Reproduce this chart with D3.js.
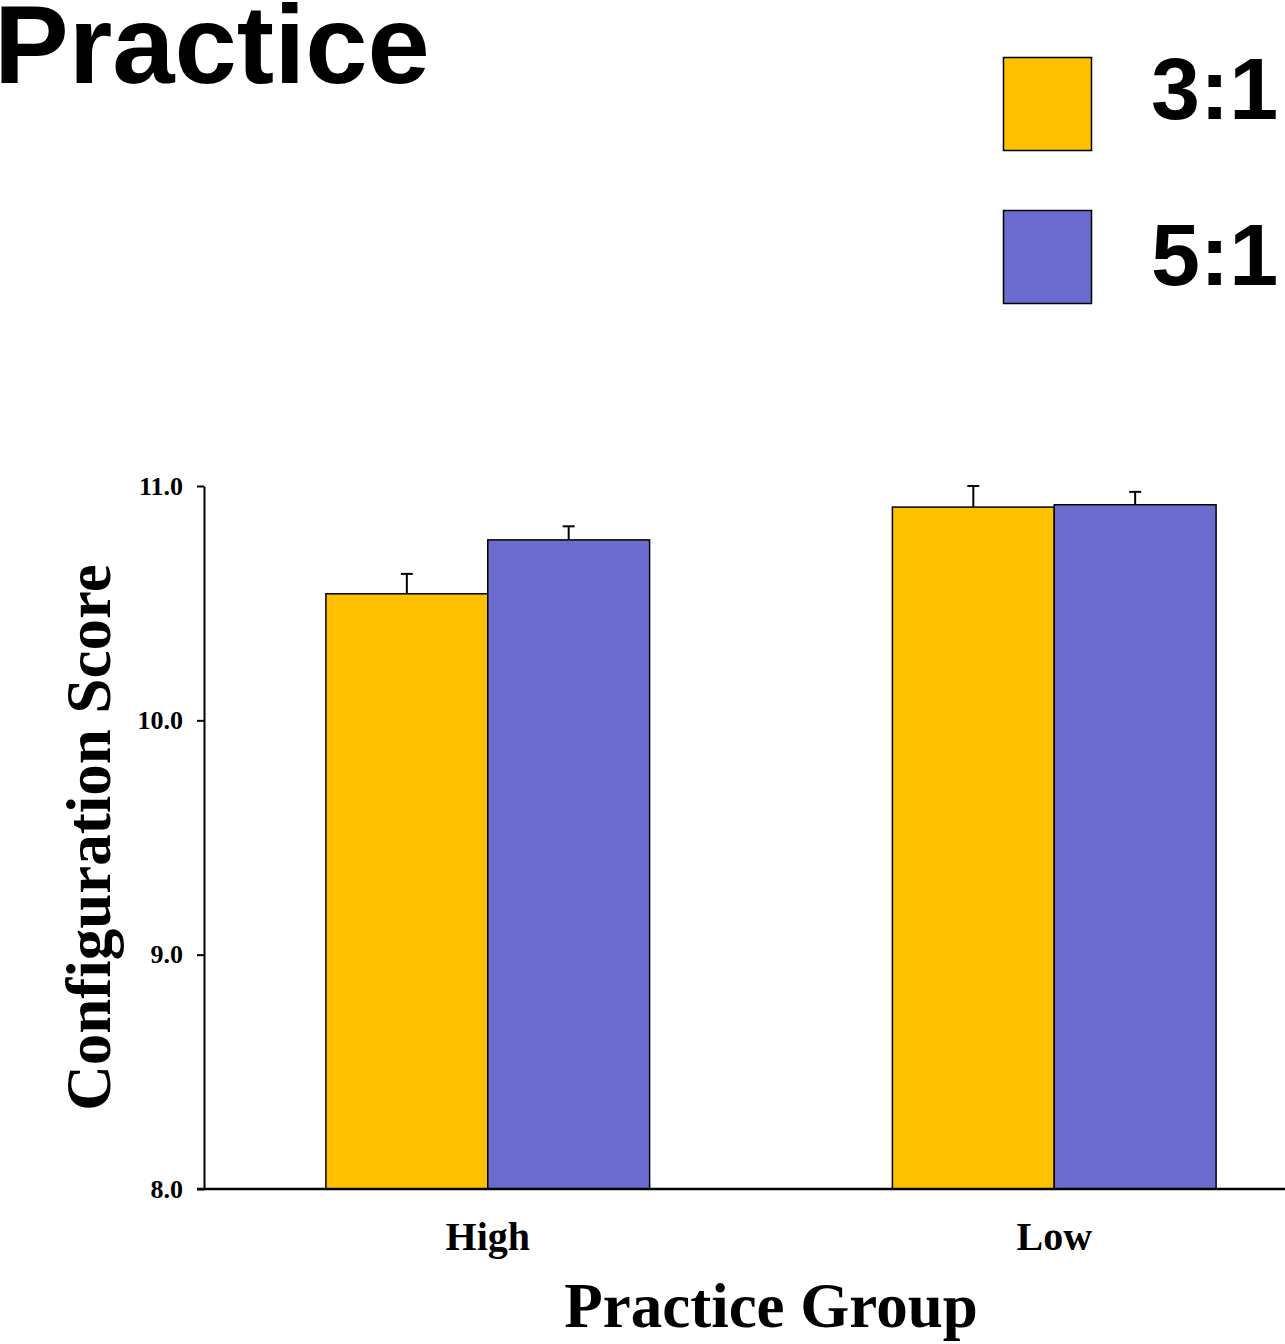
<!DOCTYPE html>
<html>
<head>
<meta charset="utf-8">
<script src="https://cdn.jsdelivr.net/npm/d3@7"></script>
<style>
  html, body { margin: 0; padding: 0; background: #fff; overflow: hidden; }
  svg { display: block; }
</style>
</head>
<body>
<script>
// Configuration score by practice group and ratio
const groups = ["High", "Low"];
const ratios = ["3:1", "5:1"];
const meanScores = {
  "3:1": [10.54, 10.91],
  "5:1": [10.77, 10.92]
};
const stdErrors = {
  "3:1": [0.085, 0.09],
  "5:1": [0.058, 0.055]
};
const yTicks = [8.0, 9.0, 10.0, 11.0];
const ratioColors = ["#FFC000", "#6C6CCE"];

const W = 1285, H = 1344;
const svg = d3.select("body").append("svg")
  .attr("width", W).attr("height", H);

const plot = { left: 204, right: 1338, top: 486, bottom: 1189 };

const y = d3.scaleLinear().domain([8, 11]).range([plot.bottom, plot.top]);
const x0 = d3.scaleBand().domain(groups)
  .range([plot.left, plot.right])
  .paddingInner(0.4286).paddingOuter(0.2152);
const x1 = d3.scaleBand().domain(ratios).range([0, x0.bandwidth()]);
const color = d3.scaleOrdinal().domain(ratios).range(ratioColors);

// Title
svg.append("text")
  .attr("x", -6).attr("y", 83)
  .attr("font-family", "Liberation Sans, Arial, sans-serif")
  .attr("font-weight", "bold").attr("font-size", 112)
  .text("Practice");

// Legend
const legend = svg.append("g");
ratios.forEach((r, i) => {
  const yy = 57 + i * 153;
  legend.append("rect")
    .attr("x", 1003.5).attr("y", yy + 0.5)
    .attr("width", 88).attr("height", 93)
    .attr("fill", color(r)).attr("stroke", "#000").attr("stroke-width", 1.5);
  legend.append("text")
    .attr("x", 1151).attr("y", yy + 62 + (i === 0 ? 0 : 13))
    .attr("font-family", "Liberation Sans, Arial, sans-serif")
    .attr("font-weight", "bold").attr("font-size", 88)
    .text(r);
});

// Bars
const rows = [];
groups.forEach((g, gi) => ratios.forEach(r => rows.push({
  group: g, ratio: r, value: meanScores[r][gi], err: stdErrors[r][gi]
})));

const barG = svg.append("g");
// upper error bars, drawn first so the stem starts at the bar top
barG.selectAll("g.err").data(rows).join("g").attr("class", "err")
  .each(function(d) {
    const cx = x0(d.group) + x1(d.ratio) + x1.bandwidth() / 2;
    const g = d3.select(this);
    g.append("line")
      .attr("x1", cx).attr("x2", cx)
      .attr("y1", y(d.value)).attr("y2", y(d.value + d.err))
      .attr("stroke", "#000").attr("stroke-width", 2);
    g.append("line")
      .attr("x1", cx - 6).attr("x2", cx + 6)
      .attr("y1", y(d.value + d.err)).attr("y2", y(d.value + d.err))
      .attr("stroke", "#000").attr("stroke-width", 2);
  });

barG.selectAll("rect").data(rows).join("rect")
  .attr("x", d => x0(d.group) + x1(d.ratio))
  .attr("y", d => y(d.value))
  .attr("width", x1.bandwidth())
  .attr("height", d => y(8) - y(d.value))
  .attr("fill", d => color(d.ratio))
  .attr("stroke", "#000").attr("stroke-width", 1.5);

// Y axis
const yAxis = d3.axisLeft(y).tickValues(yTicks)
  .tickFormat(d3.format(".1f")).tickSize(7).tickSizeOuter(0);
const yG = svg.append("g").attr("transform", `translate(${plot.left},0)`).call(yAxis);
yG.select(".domain").attr("stroke", "#000").attr("stroke-width", 2);
yG.selectAll(".tick line").attr("stroke", "#000").attr("stroke-width", 2);
yG.selectAll(".tick text")
  .attr("x", -21)
  .attr("font-family", "Liberation Serif, Times New Roman, serif")
  .attr("font-weight", "bold").attr("font-size", 26).attr("fill", "#000");

// X axis
const xAxis = d3.axisBottom(x0).tickSize(0).tickSizeOuter(0);
const xG = svg.append("g").attr("transform", `translate(0,${plot.bottom})`).call(xAxis);
xG.select(".domain").attr("stroke", "#000").attr("stroke-width", 2.5)
  .attr("d", `M${plot.left - 7},0H${plot.right}`);
xG.selectAll(".tick text")
  .attr("y", 61).attr("dy", 0)
  .attr("font-family", "Liberation Serif, Times New Roman, serif")
  .attr("font-weight", "bold").attr("font-size", 40).attr("fill", "#000");

// Axis titles
svg.append("text")
  .attr("x", (plot.left + plot.right) / 2).attr("y", 1327)
  .attr("text-anchor", "middle")
  .attr("font-family", "Liberation Serif, Times New Roman, serif")
  .attr("font-weight", "bold").attr("font-size", 63)
  .text("Practice Group");

svg.append("text")
  .attr("transform", `translate(110,${(plot.top + plot.bottom) / 2}) rotate(-90)`)
  .attr("text-anchor", "middle")
  .attr("font-family", "Liberation Serif, Times New Roman, serif")
  .attr("font-weight", "bold").attr("font-size", 63)
  .text("Configuration Score");
</script>
</body>
</html>
